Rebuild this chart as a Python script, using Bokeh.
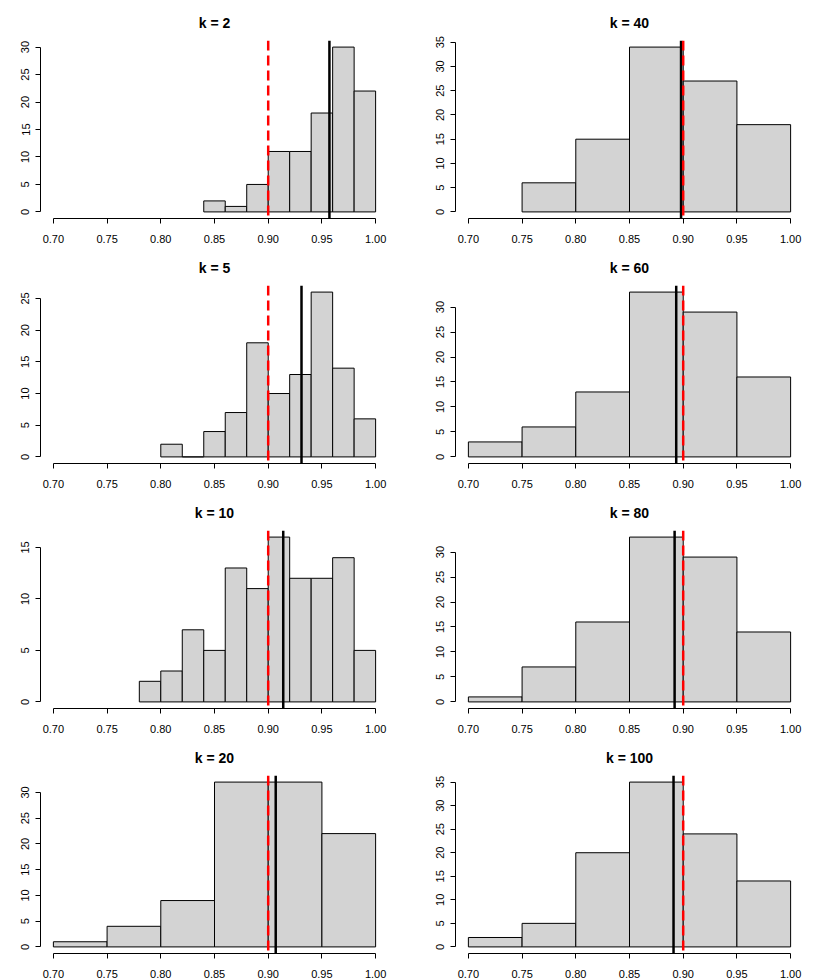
from bokeh.plotting import figure
from bokeh.models import Range1d, FixedTicker, Span, PrintfTickFormatter
from bokeh.layouts import column, row
from bokeh.embed import file_html
from bokeh.resources import INLINE

# ---- data ----
k_values = [2, 5, 10, 20, 40, 60, 80, 100]

breaks_k2 = [0.84, 0.86, 0.88, 0.90, 0.92, 0.94, 0.96, 0.98, 1.00]
counts_k2 = [2, 1, 5, 11, 11, 18, 30, 22]

breaks_k5 = [0.80, 0.82, 0.84, 0.86, 0.88, 0.90, 0.92, 0.94, 0.96, 0.98, 1.00]
counts_k5 = [2, 0, 4, 7, 18, 10, 13, 26, 14, 6]

breaks_k10 = [0.78, 0.80, 0.82, 0.84, 0.86, 0.88, 0.90, 0.92, 0.94, 0.96, 0.98, 1.00]
counts_k10 = [2, 3, 7, 5, 13, 11, 16, 12, 12, 14, 5]

breaks_k20 = [0.70, 0.75, 0.80, 0.85, 0.90, 0.95, 1.00]
counts_k20 = [1, 4, 9, 32, 32, 22]

breaks_k40 = [0.75, 0.80, 0.85, 0.90, 0.95, 1.00]
counts_k40 = [6, 15, 34, 27, 18]

breaks_k60 = [0.70, 0.75, 0.80, 0.85, 0.90, 0.95, 1.00]
counts_k60 = [3, 6, 13, 33, 29, 16]

breaks_k80 = [0.70, 0.75, 0.80, 0.85, 0.90, 0.95, 1.00]
counts_k80 = [1, 7, 16, 33, 29, 14]

breaks_k100 = [0.70, 0.75, 0.80, 0.85, 0.90, 0.95, 1.00]
counts_k100 = [2, 5, 20, 35, 24, 14]

mean_coverage = [0.957, 0.931, 0.914, 0.907, 0.898, 0.8935, 0.892, 0.891]
nominal_level = 0.90

x_ticks = [0.70, 0.75, 0.80, 0.85, 0.90, 0.95, 1.00]
y_tick_top = [30, 25, 15, 30, 35, 30, 30, 35]

all_breaks = [breaks_k2, breaks_k5, breaks_k10, breaks_k20,
              breaks_k40, breaks_k60, breaks_k80, breaks_k100]
all_counts = [counts_k2, counts_k5, counts_k10, counts_k20,
              counts_k40, counts_k60, counts_k80, counts_k100]

FONT = "Liberation Sans"


def make_panel(i):
    counts = all_counts[i]
    breaks = all_breaks[i]
    ymax = max(counts)
    # R-style 4% range extension
    xr = Range1d(0.7 - 0.012, 1.0 + 0.012)
    yr = Range1d(-0.04 * ymax, 1.04 * ymax)

    p = figure(width=415, height=245, x_range=xr, y_range=yr,
               output_backend="svg", toolbar_location=None,
               min_border_left=40, min_border_right=27,
               min_border_top=40, min_border_bottom=27,
               title="k = %d" % k_values[i])
    p.outline_line_color = None
    p.xgrid.visible = False
    p.ygrid.visible = False
    p.background_fill_color = "white"
    p.border_fill_color = "white"

    p.title.align = "center"
    p.title.text_font = FONT
    p.title.text_font_style = "bold"
    p.title.text_font_size = "14px"
    p.title.text_color = "black"
    p.title.standoff = 19

    p.quad(left=breaks[:-1], right=breaks[1:], bottom=0, top=counts,
           fill_color="#d3d3d3", line_color="black", line_width=1)

    p.add_layout(Span(location=mean_coverage[i], dimension="height",
                      line_color="black", line_width=2.5))
    p.add_layout(Span(location=nominal_level, dimension="height",
                      line_color="red", line_width=2.5, line_dash="10 5"))

    xa = p.xaxis[0]
    xa.ticker = FixedTicker(ticks=x_ticks)
    xa.formatter = PrintfTickFormatter(format="%.2f")
    xa.bounds = (x_ticks[0], x_ticks[-1])
    ya = p.yaxis[0]
    yt = list(range(0, y_tick_top[i] + 1, 5))
    ya.ticker = FixedTicker(ticks=yt)
    ya.bounds = (0, y_tick_top[i])
    ya.major_label_orientation = "vertical"
    for ax in (xa, ya):
        ax.minor_tick_line_color = None
        ax.major_tick_out = 5
        ax.major_tick_in = 0
        ax.axis_line_color = "black"
        ax.major_tick_line_color = "black"
        ax.major_label_text_font = FONT
        ax.major_label_text_font_size = "11px"
        ax.major_label_text_color = "black"
    xa.major_label_standoff = 11
    ya.major_label_standoff = 6
    return p


rows = []
for r in range(4):
    left = make_panel(r)
    right = make_panel(r + 4)
    rows.append(row(left, right, spacing=0))
layout = column(*rows, spacing=0)

open("out.html", "w").write(file_html(layout, INLINE))
